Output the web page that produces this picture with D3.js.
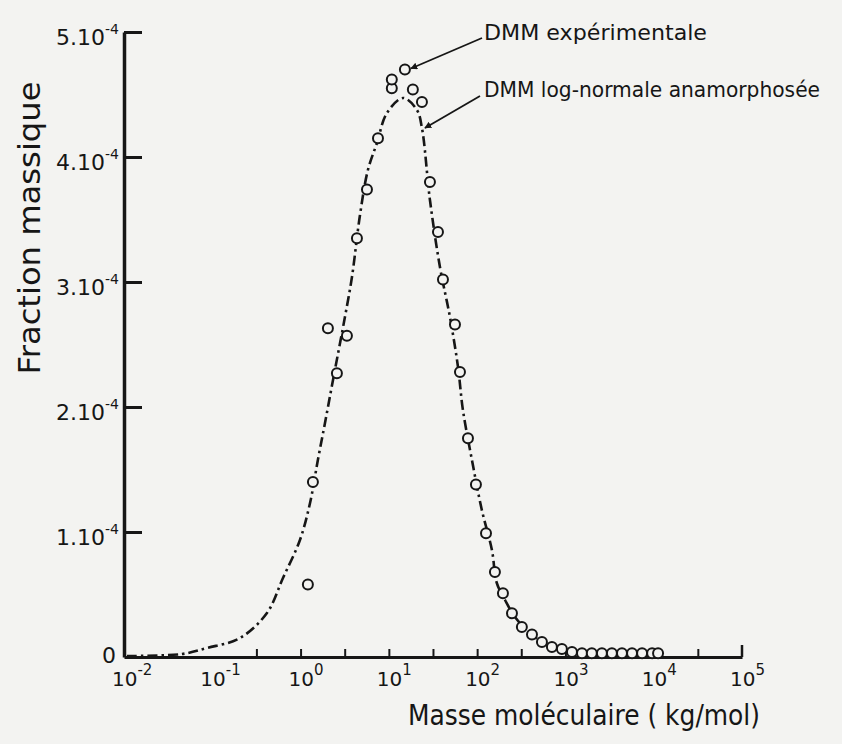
<!DOCTYPE html>
<html>
<head>
<meta charset="utf-8">
<script src="https://cdn.jsdelivr.net/npm/d3@7"></script>
<style>
  body { margin: 0; background: #f3f3f1; }
  svg { display: block; font-family: "DejaVu Sans", sans-serif; }
</style>
</head>
<body>
<div id="chart-area"></div>
<script>
// molar mass (kg/mol) and mass fraction (x 1e-4) of the experimental distribution
const expMass = [1.21, 1.38, 2.04, 2.58, 3.35, 4.35, 5.65, 7.53, 10.8, 10.8, 15.2, 18.7, 23.7,
  29.2, 36.0, 41.0, 56.1, 63.9, 78.7, 96.9, 126, 159, 196, 248, 321, 418, 542, 703, 912, 1186,
  1540, 1990, 2590, 3360, 4370, 5680, 7380, 9590, 11200];
const expFrac = [0.58, 1.40, 2.63, 2.27, 2.57, 3.35, 3.74, 4.15, 4.55, 4.62, 4.70, 4.54, 4.44,
  3.80, 3.40, 3.02, 2.66, 2.28, 1.75, 1.38, 0.99, 0.68, 0.51, 0.35, 0.24, 0.18, 0.12, 0.08, 0.064, 0.04,
  0.03, 0.03, 0.03, 0.03, 0.03, 0.03, 0.03, 0.03, 0.03];

// log-normal fit (dash-dot curve)
const fitMass = [0.0108, 0.0454, 0.0871, 0.206, 0.416, 0.632, 0.984, 1.28, 1.57, 1.89, 2.33, 3.18,
  3.82, 4.71, 5.79, 7.33, 9.51, 14.5, 20.8, 23.7, 29.2, 37.9, 49.2, 60.7, 69.0, 87.3, 113, 147,
  167, 207, 268, 396, 617, 986, 1890, 4000];
const fitFrac = [0.008, 0.024, 0.072, 0.152, 0.352, 0.632, 0.936, 1.232, 1.576, 1.872, 2.216, 2.72,
  3.04, 3.536, 3.896, 4.112, 4.352, 4.472, 4.376, 4.232, 3.656, 3.12, 2.72, 2.32, 1.976, 1.576, 1.176, 0.856,
  0.592, 0.456, 0.32, 0.192, 0.096, 0.04, 0.016, 0];

const xTickExps = [-2, -1, 0, 1, 2, 3, 4, 5];
const xHalfTicks = [0.316, 1, 3.16, 10, 31.6, 100, 316, 1000, 3160, 10000, 31600];
const yTicks = [0, 1, 2, 3, 4, 5];
const yTickLabels = ["0", "1.10", "2.10", "3.10", "4.10", "5.10"];
const yExp = "-4";
const legendLabels = ["DMM expérimentale", "DMM log-normale anamorphosée"];

const ink = "#161616";
const paper = "#f3f3f1";

const svg = d3.select("#chart-area")
  .append("svg")
  .attr("width", 842)
  .attr("height", 744);

svg.append("rect")
  .attr("width", 842)
  .attr("height", 744)
  .attr("fill", paper);

const x = d3.scaleLog()
  .domain([1e-2, 1e5])
  .range([124, 742]);

const y = d3.scaleLinear()
  .domain([0, 5])
  .range([657, 32]);

// x axis, small ticks pointing up
const xAxis = d3.axisBottom(x)
  .tickValues(xHalfTicks)
  .tickSize(-8)
  .tickSizeOuter(0)
  .tickFormat("");

const gx = svg.append("g")
  .attr("transform", "translate(0,657)")
  .call(xAxis);
gx.select(".domain").attr("stroke", ink).attr("stroke-width", 3);
gx.selectAll(".tick line").attr("stroke", ink).attr("stroke-width", 2);

// end tick at 1e5
svg.append("line")
  .attr("x1", x(1e5)).attr("x2", x(1e5))
  .attr("y1", 657).attr("y2", 645)
  .attr("stroke", ink).attr("stroke-width", 2.5);

const yAxis = d3.axisLeft(y)
  .tickValues(yTicks.slice(1))
  .tickSize(-18)
  .tickSizeOuter(0)
  .tickFormat("");

const gy = svg.append("g")
  .attr("transform", "translate(124,0)")
  .call(yAxis);
gy.select(".domain").attr("stroke", ink).attr("stroke-width", 3.5);
gy.selectAll(".tick line").attr("stroke", ink).attr("stroke-width", 3);

// y tick labels
yTicks.forEach((v, i) => {
  const t = svg.append("text")
    .attr("x", i === 0 ? 116 : 119)
    .attr("y", y(v) + (i === 0 ? 6 : 13))
    .attr("text-anchor", "end")
    .attr("font-size", "22px")
    .attr("fill", ink);
  t.append("tspan").text(yTickLabels[i]);
  if (i > 0) {
    t.append("tspan")
      .attr("dy", -11)
      .attr("font-size", "14px")
      .text(yExp);
  }
});

// x tick labels, the "10" centred on the decade
xTickExps.forEach(e => {
  const t = svg.append("text")
    .attr("x", x(Math.pow(10, e)) - 12)
    .attr("y", 686)
    .attr("font-size", "20px")
    .attr("fill", ink);
  t.append("tspan").text("10");
  t.append("tspan")
    .attr("dy", -11)
    .attr("font-size", "15px")
    .text(e < 0 ? "-" + Math.abs(e) : e);
});

// axis titles
svg.append("text")
  .attr("transform", "translate(40,228) rotate(-90)")
  .attr("text-anchor", "middle")
  .attr("font-size", "31px")
  .attr("fill", ink)
  .attr("textLength", 293)
  .attr("lengthAdjust", "spacingAndGlyphs")
  .text("Fraction massique");

svg.append("text")
  .attr("x", 408)
  .attr("y", 725)
  .attr("font-size", "28px")
  .attr("fill", ink)
  .attr("textLength", 352)
  .attr("lengthAdjust", "spacingAndGlyphs")
  .text("Masse moléculaire ( kg/mol)");

// fitted curve, dash-dot
const fitData = fitMass.map((m, i) => ({ m: m, f: fitFrac[i] }));
const line = d3.line()
  .x(d => x(d.m))
  .y(d => y(d.f))
  .curve(d3.curveCatmullRom.alpha(0.5));

svg.append("path")
  .datum(fitData)
  .attr("d", line)
  .attr("fill", "none")
  .attr("stroke", ink)
  .attr("stroke-width", 2.6)
  .attr("stroke-dasharray", "10,4,2.5,4");

// experimental points
const expData = expMass.map((m, i) => ({ m: m, f: expFrac[i] }));
svg.selectAll("circle.exp")
  .data(expData)
  .enter()
  .append("circle")
  .attr("class", "exp")
  .attr("cx", d => x(d.m))
  .attr("cy", d => y(d.f))
  .attr("r", 5)
  .attr("fill", paper)
  .attr("stroke", ink)
  .attr("stroke-width", 2);

// legend with leader arrows
svg.append("defs").append("marker")
  .attr("id", "arrow")
  .attr("viewBox", "0 0 10 10")
  .attr("refX", 9)
  .attr("refY", 5)
  .attr("markerWidth", 7)
  .attr("markerHeight", 7)
  .attr("markerUnits", "userSpaceOnUse")
  .attr("orient", "auto")
  .append("path")
  .attr("d", "M0,0 L10,5 L0,10 z")
  .attr("fill", ink);

svg.append("line")
  .attr("x1", 482).attr("y1", 38)
  .attr("x2", x(15.2) + 6).attr("y2", y(4.70) - 1)
  .attr("stroke", ink).attr("stroke-width", 1.8)
  .attr("marker-end", "url(#arrow)");

svg.append("line")
  .attr("x1", 480).attr("y1", 96)
  .attr("x2", x(23.7) + 3).attr("y2", y(4.232))
  .attr("stroke", ink).attr("stroke-width", 1.8)
  .attr("marker-end", "url(#arrow)");

svg.append("text")
  .attr("x", 484).attr("y", 40)
  .attr("font-size", "22px")
  .attr("fill", ink)
  .attr("textLength", 223)
  .attr("lengthAdjust", "spacingAndGlyphs")
  .text(legendLabels[0]);

svg.append("text")
  .attr("x", 484).attr("y", 97)
  .attr("font-size", "21px")
  .attr("fill", ink)
  .attr("textLength", 336)
  .attr("lengthAdjust", "spacingAndGlyphs")
  .text(legendLabels[1]);
</script>
</body>
</html>
